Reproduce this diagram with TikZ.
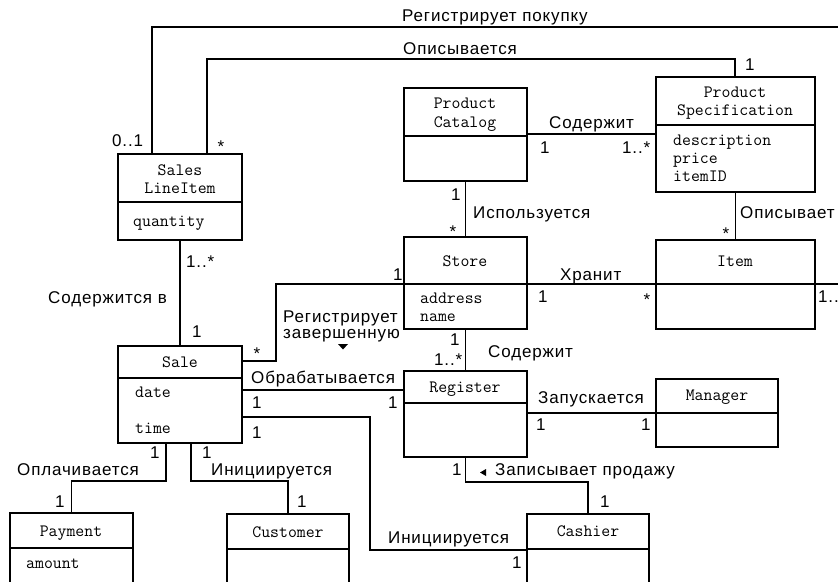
\documentclass[tikz,border=0pt]{standalone}
\usepackage{fontspec}
\usetikzlibrary{calc}
\newfontfamily\lblfont[LetterSpace=5]{Liberation Sans}
\tikzset{
  boxline/.style={line width=1.6pt, line cap=rect},
  classbox/.style={draw, line width=1.6pt, inner sep=0pt, outer sep=0pt, anchor=north west},
  conn/.style={line width=1.6pt},
  lbl/.style={inner sep=0pt, anchor=base west, font=\lblfont\fontsize{17}{17}\selectfont},
  mult/.style={lbl},
  ttl/.style={inner sep=0pt, anchor=base, font=\ttfamily\addfontfeatures{FakeBold=1.6}\fontsize{17.3}{18}\selectfont},
  attr/.style={inner sep=0pt, anchor=base west, font=\ttfamily\addfontfeatures{FakeBold=1.6}\fontsize{17.3}{18}\selectfont},
}
\begin{document}
\begin{tikzpicture}[x=1pt,y=-1pt]
\useasboundingbox (0,0) rectangle (838,581);
\clip (0,0) rectangle (838,581);
\coordinate (rightEdge) at (838,0);

% ---------- classes ----------
\node[classbox, minimum width=124, minimum height=86] (sli) at (118,154) {};
\coordinate (sli-d) at (118,202); \draw[boxline] (sli-d) -- (sli-d -| sli.east);
\node[classbox, minimum width=123, minimum height=93] (pc) at (404,88) {};
\coordinate (pc-d) at (404,136); \draw[boxline] (pc-d) -- (pc-d -| pc.east);
\node[classbox, minimum width=159, minimum height=115] (ps) at (656,77) {};
\coordinate (ps-d) at (656,125); \draw[boxline] (ps-d) -- (ps-d -| ps.east);
\node[classbox, minimum width=123, minimum height=92] (store) at (404,237) {};
\coordinate (store-d) at (404,284); \draw[boxline] (store-d) -- (store-d -| store.east);
\node[classbox, minimum width=159, minimum height=89] (item) at (656,240) {};
\coordinate (item-d) at (656,284); \draw[boxline] (item-d) -- (item-d -| item.east);
\node[classbox, minimum width=124, minimum height=97] (sale) at (118,346) {};
\coordinate (sale-d) at (118,378); \draw[boxline] (sale-d) -- (sale-d -| sale.east);
\node[classbox, minimum width=123, minimum height=86] (reg) at (404,371) {};
\coordinate (reg-d) at (404,403); \draw[boxline] (reg-d) -- (reg-d -| reg.east);
\node[classbox, minimum width=122, minimum height=68] (man) at (656,379) {};
\coordinate (man-d) at (656,413); \draw[boxline] (man-d) -- (man-d -| man.east);
\node[classbox, minimum width=123, minimum height=87] (pay) at (10,513) {};
\coordinate (pay-d) at (10,548); \draw[boxline] (pay-d) -- (pay-d -| pay.east);
\node[classbox, minimum width=122, minimum height=86] (cust) at (227,514) {};
\coordinate (cust-d) at (227,549); \draw[boxline] (cust-d) -- (cust-d -| cust.east);
\node[classbox, minimum width=122, minimum height=86] (cash) at (527,514) {};
\coordinate (cash-d) at (527,549); \draw[boxline] (cash-d) -- (cash-d -| cash.east);

% ---------- class texts ----------
\node[ttl] (sli-t1) at (180,175) {Sales};
\node[ttl] (sli-t2) at (180,193) {LineItem};
\node[attr] (sli-a1) at (133,226) {quantity};
\node[ttl] (pc-t1) at (465,108) {Product};
\node[ttl] (pc-t2) at (465,127) {Catalog};
\node[ttl] (ps-t1) at (735,97) {Product};
\node[ttl] (ps-t2) at (735,115) {Specification};
\node[attr] (ps-a1) at (673,145) {description};
\node[attr] (ps-a2) at (673,163) {price};
\node[attr] (ps-a3) at (673,181) {itemID};
\node[ttl] (store-t) at (465,266) {Store};
\node[attr] (store-a1) at (420,303) {address};
\node[attr] (store-a2) at (420,321) {name};
\node[ttl] (item-t) at (735,266) {Item};
\node[ttl] (sale-t) at (180,367) {Sale};
\node[attr] (sale-a1) at (135,397) {date};
\node[attr] (sale-a2) at (135,433) {time};
\node[ttl] (reg-t) at (465,392) {Register};
\node[ttl] (man-t) at (717,400) {Manager};
\node[ttl] (pay-t) at (71,536) {Payment};
\node[attr] (pay-a1) at (26,568) {amount};
\node[ttl] (cust-t) at (288,537) {Customer};
\node[ttl] (cash-t) at (588,536) {Cashier};

% ---------- connectors ----------
\coordinate (rpEnd) at (838,27);
\draw[conn] ($(sli.north west)+(34,0)$) |- (rpEnd);
\draw[conn] ($(sli.north west)+(89,0)$) -- ++(0,-95) -| ($(ps.north west)+(79,0)$);
\coordinate (pcR) at ($(pc.north east)+(0,46)$);
\draw[conn] (pcR) -- (pcR -| ps.west);
\draw[conn] (pc.south) -- (store.north);
\draw[conn] (ps.south) -- (item.north);
\draw[conn] (store-d -| store.east) -- (store-d -| item.west);
\draw[conn] (item-d -| item.east) -- (item-d -| rightEdge);
\draw[conn] (store-d) -- ++(-128,0) |- ($(sale.north east)+(0,15)$);
\draw[conn] (store.south) -- (reg.north);
\draw[conn] (sli.south) -- (sale.north);
\coordinate (ob) at ($(sale.north east)+(0,44)$);
\draw[conn] (ob) -- (ob -| reg.west);
\draw[conn] ($(sale.north east)+(0,71)$) -- ++(128,0) |- ($(cash.north west)+(0,36)$);
\draw[conn] (man-d) -- (man-d -| reg.east);
\draw[conn] (reg.south) -- ++(0,25) -| ($(cash.north west)+(61,0)$);
\draw[conn] ($(sale.south west)+(48,0)$) -- ++(0,38) -| (pay.north);
\draw[conn] ($(sale.south west)+(73,0)$) -- ++(0,38) -| (cust.north);

% ---------- association labels ----------
\node[lbl] (l-rp) at (402,21) {Регистрирует покупку};
\node[lbl] (l-op) at (403,54) {Описывается};
\node[lbl] (l-sod1) at (549,128) {Содержит};
\node[lbl] (l-isp) at (473,218) {Используется};
\node[lbl] (l-opv) at (740,218) {Описывает};
\node[lbl] (l-hr) at (560,280) {Хранит};
\node[lbl] (l-rz1) at (283,322) {Регистрирует};
\node[lbl] (l-rz2) at (283,338) {завершенную};
\fill (338,344) -- (348,344) -- (343,349.5) -- cycle;
\node[lbl] (l-sv) at (48,303) {Содержится в};
\node[lbl] (l-sod2) at (488,357) {Содержит};
\node[lbl] (l-obr) at (251,383) {Обрабатывается};
\node[lbl] (l-zap) at (538,403) {Запускается};
\fill (480,472.5) -- (486,469) -- (486,476) -- cycle;
\node[lbl] (l-zp) at (495,475) {Записывает продажу};
\node[lbl] (l-in1) at (388,543) {Инициируется};
\node[lbl] (l-opl) at (17,475) {Оплачивается};
\node[lbl] (l-in2) at (211,475) {Инициируется};

% ---------- multiplicities ----------
\node[mult] (m1) at (112,146) {0..1};
\node[mult, anchor=base] (m2) at (221,152) {*};
\node[mult] (m3) at (745,70) {1};
\node[mult] (m4) at (540,153) {1};
\node[mult] (m5) at (622,153) {1..*};
\node[mult] (m6) at (451,200) {1};
\node[mult, anchor=base] (m7) at (453,237) {*};
\node[mult, anchor=base] (m8) at (726,239) {*};
\node[mult] (m9) at (538,302) {1};
\node[mult, anchor=base] (m10) at (647,305) {*};
\node[mult] (m11) at (818,302) {1..};
\node[mult] (m12) at (393,280) {1};
\node[mult, anchor=base] (m13) at (257,359) {*};
\node[mult] (m14) at (186,267) {1..*};
\node[mult] (m15) at (192,337) {1};
\node[mult] (m16) at (450,345) {1};
\node[mult] (m17) at (434,365) {1..*};
\node[mult] (m18) at (252,408) {1};
\node[mult] (m19) at (388,408) {1};
\node[mult] (m20) at (252,438) {1};
\node[mult] (m21) at (536,430) {1};
\node[mult] (m22) at (641,430) {1};
\node[mult] (m23) at (452,475) {1};
\node[mult] (m24) at (600,507) {1};
\node[mult] (m25) at (512,568) {1};
\node[mult] (m26) at (150,458) {1};
\node[mult] (m27) at (202,458) {1};
\node[mult] (m28) at (55,507) {1};
\node[mult] (m29) at (297,507) {1};
\end{tikzpicture}
\end{document}
